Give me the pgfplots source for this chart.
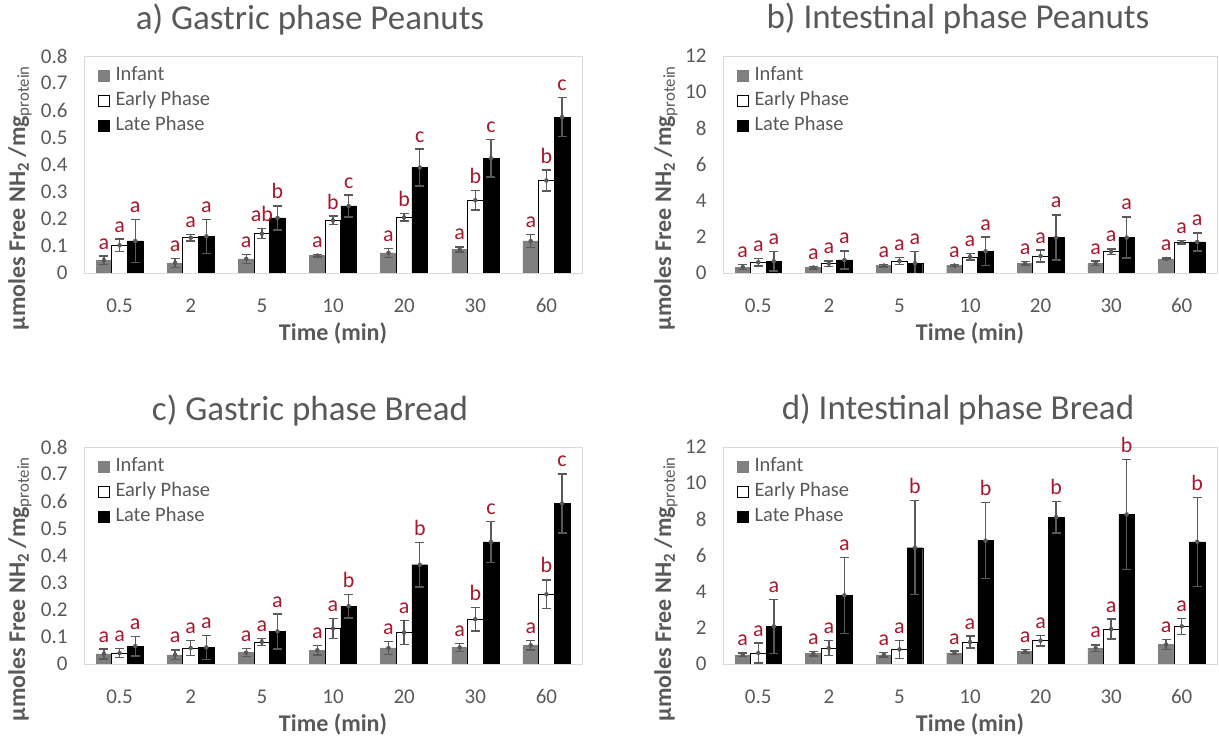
\documentclass[border=0pt]{standalone}
\usepackage{pgfplots}
\pgfplotsset{compat=1.18}
\usepackage{pgfplotstable}
\usepackage{fontspec}
\setmainfont{Carlito}
\definecolor{txt}{HTML}{595959}
\definecolor{infg}{HTML}{808080}
\definecolor{errg}{HTML}{595959}
\definecolor{bord}{HTML}{D9D9D9}
\definecolor{lett}{HTML}{A6192E}

\pgfplotstableread{
x inf infe ear eare lat late linf lear llat
0 0.047 0.015 0.102 0.023 0.118 0.080 a a a
1 0.037 0.016 0.130 0.012 0.135 0.063 a a a
2 0.052 0.016 0.145 0.018 0.203 0.044 a ab b
3 0.064 0.005 0.194 0.016 0.247 0.040 a b c
4 0.074 0.017 0.205 0.014 0.389 0.068 a b c
5 0.087 0.009 0.268 0.036 0.423 0.069 a b c
6 0.118 0.023 0.341 0.038 0.575 0.072 a b c
}\tabA
\pgfplotstableread{
x inf infe ear eare lat late linf lear llat
0 0.33 0.15 0.59 0.20 0.65 0.53 a a a
1 0.30 0.07 0.52 0.15 0.72 0.50 a a a
2 0.41 0.07 0.66 0.20 0.54 0.64 a a a
3 0.41 0.05 0.89 0.18 1.20 0.78 a a a
4 0.55 0.10 0.94 0.33 1.96 1.25 a a a
5 0.54 0.12 1.18 0.15 1.96 1.14 a a a
6 0.78 0.05 1.70 0.10 1.72 0.50 a a a
}\tabB
\pgfplotstableread{
x inf infe ear eare lat late linf lear llat
0 0.037 0.018 0.040 0.017 0.066 0.036 a a a
1 0.034 0.018 0.059 0.028 0.061 0.044 a a a
2 0.042 0.015 0.081 0.012 0.120 0.064 a a a
3 0.051 0.018 0.131 0.037 0.213 0.043 a a b
4 0.059 0.024 0.116 0.045 0.366 0.082 a a b
5 0.061 0.015 0.165 0.043 0.450 0.075 a b c
6 0.069 0.018 0.257 0.053 0.592 0.109 a b c
}\tabC
\pgfplotstableread{
x inf infe ear eare lat late linf lear llat
0 0.51 0.10 0.61 0.55 2.08 1.50 a a a
1 0.57 0.12 0.88 0.42 3.80 2.10 a a a
2 0.51 0.13 0.81 0.50 6.43 2.60 a a b
3 0.61 0.10 1.21 0.33 6.82 2.10 a a b
4 0.70 0.10 1.29 0.30 8.12 0.88 a a b
5 0.88 0.18 1.93 0.55 8.27 3.03 a a b
6 1.07 0.28 2.08 0.44 6.76 2.46 a a b
}\tabD

\pgfplotsset{
  panel/.style n args={3}{
    scale only axis, width=#1, height=217pt,
    xmin=-0.5, xmax=6.5, ymin=0,
    xtick={0,...,6}, xticklabels={0.5,2,5,10,20,30,60},
    axis line style={draw=bord, line width=0.9pt},
    major tick length=0pt, tick style={draw=none},
    /pgf/number format/assume math mode=true,
    /pgf/number format/fixed,
    scaled y ticks=false,
    tick label style={font=\fontsize{21}{25}\selectfont, text=txt},
    xticklabel style={yshift=-22pt},
    yticklabel style={xshift=-13pt},
    xlabel={\textbf{Time (min)}},
    every axis x label/.style={at={(rel axis cs:0.5,0)}, anchor=center, yshift=-60pt,
      font=\fontsize{24}{28}\selectfont, text=txt},
    ylabel={\textbf{µmoles Free NH\textsubscript{2} /mg\textsubscript{\mdseries protein}}},
    every axis y label/.style={at={(rel axis cs:0,0.345)}, xshift=#2, rotate=90, anchor=center,
      font=\fontsize{24}{28}\selectfont, text=txt},
    title style={at={(rel axis cs:0.5,1)}, anchor=base, yshift=21pt, xshift=#3,
      font=\fontsize{35}{40}\selectfont, text=txt},
    legend style={at={(rel axis cs:0,1)}, anchor=north west, xshift=14pt, yshift=-9pt,
      draw=none, fill=none, font=\fontsize{20.5}{24}\selectfont, text=txt,
      row sep=4pt, inner sep=0pt,
      nodes={inner sep=1.5pt, text height=14pt, text depth=4pt},
      /tikz/every odd column/.append style={column sep=4pt}},
    legend cell align=left,
  },
  infbar/.style={ybar, bar width=0.22, bar shift=-0.22, fill=infg, draw=infg,
    legend image code/.code={\draw[fill=infg, draw=infg] (0pt,-5.5pt) rectangle (11pt,5.5pt);}},
  earbar/.style={ybar, bar width=0.22, bar shift=0, fill=white, draw=black, line width=0.8pt,
    legend image code/.code={\draw[fill=white, draw=black, line width=0.8pt] (0pt,-5.5pt) rectangle (11pt,5.5pt);}},
  latbar/.style={ybar, bar width=0.22, bar shift=0.22, fill=black, draw=black,
    legend image code/.code={\draw[fill=black, draw=black] (0pt,-5.5pt) rectangle (11pt,5.5pt);}},
  errs/.style={forget plot, only marks, mark=none, color=errg,
    error bars/.cd, y dir=both, y explicit,
    error bar style={line width=1.4pt, color=errg},
    error mark options={rotate=90, mark size=4.5pt, line width=1.4pt, color=errg}},
  lbl/.style={draw=none, mark=none, forget plot, nodes near coords, point meta=explicit symbolic,
    every node near coord/.append style={anchor=base, yshift=7pt, inner sep=0pt,
      font=\fontsize{22}{26}\selectfont, text=lett}},
}

\newcommand{\panelplots}[1]{%
  \addplot[infbar] table[x=x, y=inf] {#1};
  \addplot[earbar] table[x=x, y=ear] {#1};
  \addplot[latbar] table[x=x, y=lat] {#1};
  \addplot[errs] table[x expr=\thisrow{x}-0.22, y=inf, y error=infe] {#1};
  \addplot[errs] table[x expr=\thisrow{x}, y=ear, y error=eare] {#1};
  \addplot[errs] table[x expr=\thisrow{x}+0.22, y=lat, y error=late] {#1};
  \addplot[lbl] table[x expr=\thisrow{x}-0.22, y expr=\thisrow{inf}+\thisrow{infe}, meta=linf] {#1};
  \addplot[lbl] table[x expr=\thisrow{x}, y expr=\thisrow{ear}+\thisrow{eare}, meta=lear] {#1};
  \addplot[lbl] table[x expr=\thisrow{x}+0.22, y expr=\thisrow{lat}+\thisrow{late}, meta=llat] {#1};
  \legend{Infant, Early Phase, Late Phase}
}

\begin{document}
\begin{tikzpicture}
\path[use as bounding box] (0,0) rectangle (1219pt,739pt);

\begin{axis}[panel={498pt}{-64pt}{-23pt}, at={(84pt,466pt)}, anchor=south west,
  ymax=0.8, ytick={0,0.1,0.2,0.3,0.4,0.5,0.6,0.7,0.8},
  yticklabels={0,0.1,0.2,0.3,0.4,0.5,0.6,0.7,0.8},
  title={a) Gastric phase Peanuts}]
\panelplots{\tabA}
\end{axis}

\begin{axis}[panel={494pt}{-57pt}{-12pt}, at={(723pt,466pt)}, anchor=south west,
  ymax=12, ytick={0,2,4,6,8,10,12},
  title={b) Intestinal phase Peanuts}]
\panelplots{\tabB}
\end{axis}

\begin{axis}[panel={498pt}{-64pt}{-23pt}, at={(84pt,75pt)}, anchor=south west,
  ymax=0.8, ytick={0,0.1,0.2,0.3,0.4,0.5,0.6,0.7,0.8},
  yticklabels={0,0.1,0.2,0.3,0.4,0.5,0.6,0.7,0.8},
  title={c) Gastric phase Bread}]
\panelplots{\tabC}
\end{axis}

\begin{axis}[panel={494pt}{-57pt}{-12pt}, at={(723pt,75pt)}, anchor=south west,
  ymax=12, ytick={0,2,4,6,8,10,12},
  title={d) Intestinal phase Bread}]
\panelplots{\tabD}
\end{axis}
\end{tikzpicture}
\end{document}
